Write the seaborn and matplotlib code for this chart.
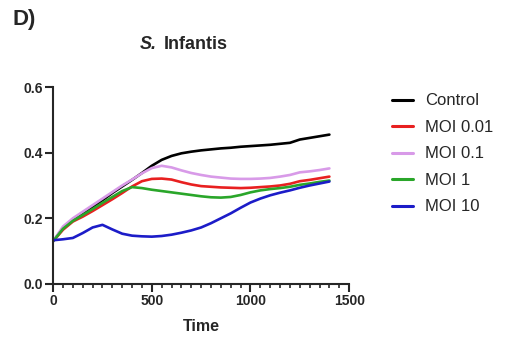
import numpy as np
import pandas as pd
import matplotlib
matplotlib.use("Agg")
import matplotlib.pyplot as plt
import seaborn as sns
from matplotlib.ticker import MultipleLocator

sns.set_style("ticks")
plt.rcParams['font.family'] = ['Liberation Sans', 'DejaVu Sans']

time = list(range(0, 1401, 50))

control = [0.130, 0.170, 0.197, 0.215, 0.235, 0.255, 0.277, 0.297, 0.317, 0.338,
           0.360, 0.378, 0.390, 0.398, 0.403, 0.407, 0.410, 0.413, 0.415, 0.418,
           0.420, 0.422, 0.424, 0.427, 0.430, 0.440, 0.445, 0.450, 0.455]
moi_001 = [0.130, 0.165, 0.190, 0.205, 0.222, 0.240, 0.258, 0.277, 0.297, 0.313,
           0.320, 0.321, 0.318, 0.310, 0.303, 0.298, 0.296, 0.294, 0.293, 0.292,
           0.293, 0.295, 0.297, 0.300, 0.305, 0.313, 0.317, 0.322, 0.327]
moi_01 = [0.130, 0.175, 0.200, 0.220, 0.240, 0.260, 0.280, 0.300, 0.318, 0.337,
          0.353, 0.360, 0.355, 0.346, 0.338, 0.332, 0.327, 0.324, 0.321, 0.320,
          0.320, 0.321, 0.323, 0.327, 0.332, 0.340, 0.343, 0.347, 0.352]
moi_1 = [0.130, 0.168, 0.192, 0.210, 0.228, 0.247, 0.265, 0.283, 0.295, 0.292,
         0.287, 0.283, 0.279, 0.275, 0.271, 0.267, 0.264, 0.263, 0.265, 0.271,
         0.279, 0.285, 0.289, 0.292, 0.296, 0.302, 0.306, 0.311, 0.315]
moi_10 = [0.133, 0.136, 0.140, 0.155, 0.172, 0.180, 0.166, 0.153, 0.147, 0.145,
          0.144, 0.146, 0.150, 0.156, 0.163, 0.172, 0.185, 0.200, 0.215, 0.232,
          0.248, 0.260, 0.270, 0.278, 0.285, 0.293, 0.300, 0.306, 0.312]

series_names = ["Control", "MOI 0.01", "MOI 0.1", "MOI 1", "MOI 10"]
series_values = [control, moi_001, moi_01, moi_1, moi_10]
colors = ["#000000", "#e82020", "#d89ae8", "#2aa62a", "#1c1cc8"]
x_ticks = [0, 500, 1000, 1500]
y_ticks = [0.0, 0.2, 0.4, 0.6]
y_tick_labels = ["0.0", "0.2", "0.4", "0.6"]

frames = []
for name, vals in zip(series_names, series_values):
    frames.append(pd.DataFrame({"Time": time, "OD": vals, "Group": name}))
df = pd.concat(frames, ignore_index=True)

fig = plt.figure(figsize=(5.06, 3.40), dpi=100)
ax = fig.add_axes([0.105, 0.165, 0.585, 0.579])

sns.lineplot(data=df, x="Time", y="OD", hue="Group", hue_order=series_names,
             palette=dict(zip(series_names, colors)), linewidth=1.9, ax=ax,
             legend=True)

ax.set_xlim(0, 1500)
ax.set_ylim(0, 0.6)
ax.set_xticks(x_ticks)
ax.xaxis.set_minor_locator(MultipleLocator(50))
ax.set_yticks(y_ticks)
ax.set_yticklabels(y_tick_labels)
sns.despine(ax=ax)
for s in ["left", "bottom"]:
    ax.spines[s].set_linewidth(1.5)
ax.tick_params(which="major", length=5.5, width=1.5, labelsize=10, pad=2)
ax.tick_params(which="minor", length=3, width=1.2)
for lab in ax.get_xticklabels() + ax.get_yticklabels():
    lab.set_fontweight("bold")
ax.set_xlabel("Time", fontsize=11.5, fontweight="bold", labelpad=8)
ax.set_ylabel("")

leg = ax.legend(loc="center left", bbox_to_anchor=(0.775, 1 - 154 / 340),
                bbox_transform=fig.transFigure, frameon=False, fontsize=12,
                handlelength=1.25, handletextpad=0.75, labelspacing=0.69,
                borderpad=0, borderaxespad=0)
for line in leg.get_lines():
    line.set_linewidth(2.2)

fig.text(0.025, 0.944, "D)", fontsize=16, fontweight="bold", ha="left", va="center")
fig.text(140 / 506, 0.869, "S.", fontsize=13, fontweight="bold", style="italic",
         ha="left", va="center")
fig.text(164 / 506, 0.869, "Infantis", fontsize=13, fontweight="bold",
         ha="left", va="center")

fig.savefig("out.png", dpi=100)
